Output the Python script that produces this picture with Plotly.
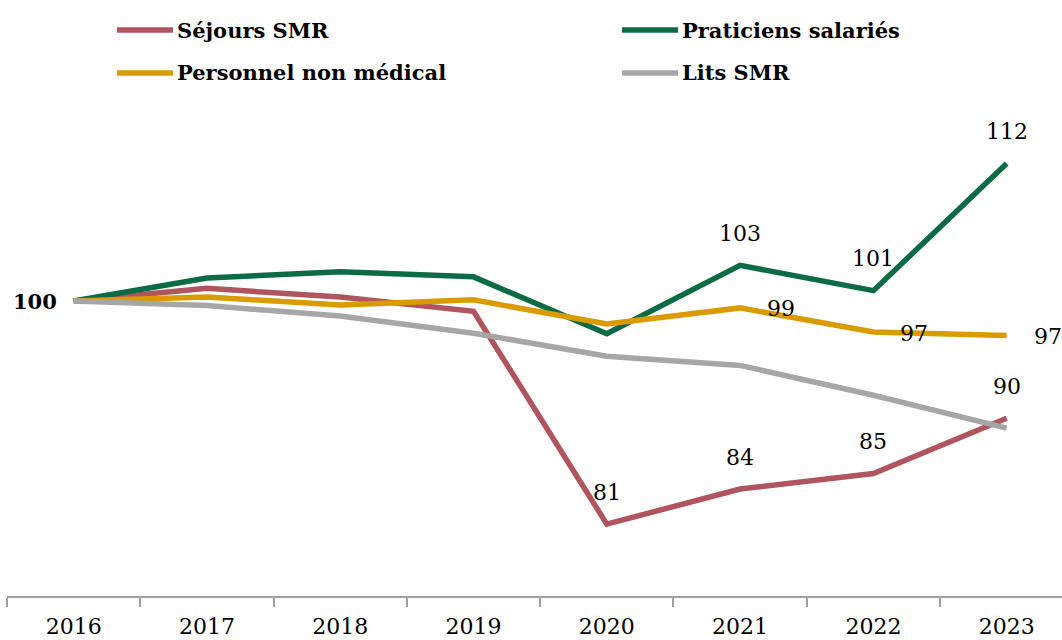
import plotly.graph_objects as go

years = ["2016", "2017", "2018", "2019", "2020", "2021", "2022", "2023"]
sejours_smr = [100, 101.1, 100.35, 99.1, 80.6, 83.65, 85.0, 89.8]
praticiens_salaries = [100, 102.0, 102.55, 102.1, 97.15, 103.1, 100.9, 111.95]
personnel_non_medical = [100, 100.35, 99.65, 100.1, 98.0, 99.4, 97.3, 97.0]
lits_smr = [100, 99.6, 98.7, 97.2, 95.2, 94.4, 91.8, 88.95]

series_names = ["Séjours SMR", "Praticiens salariés", "Personnel non médical", "Lits SMR"]
series_values = [sejours_smr, praticiens_salaries, personnel_non_medical, lits_smr]
series_colors = ["#B0545F", "#0C6B45", "#D99B00", "#A6A6A6"]

# which points get value labels: (series index, year index, position)
label_points = [
    (0, 4, "above"), (0, 5, "above"), (0, 6, "above"), (0, 7, "above"),
    (1, 5, "above"), (1, 6, "above"), (1, 7, "above"),
    (2, 5, "right"), (2, 6, "right"), (2, 7, "right"),
]

W, H = 1062, 640
ML, MR, MT, MB = 7, 0, 110, 44
PW, PH = W - ML - MR, H - MT - MB
CAT_PX = 133.29
X_LO = -0.5
X_HI = X_LO + PW / CAT_PX
PX_PER_UNIT = 11.5
Y_LO = 100 - 295 / PX_PER_UNIT
Y_HI = Y_LO + PH / PX_PER_UNIT

def px_x(p):  # page pixel -> paper x
    return (p - ML) / PW

def px_y(p):  # page pixel -> paper y
    return (H - MB - p) / PH

fig = go.Figure()
for name, vals, col in zip(series_names, series_values, series_colors):
    fig.add_trace(go.Scatter(
        x=years, y=vals, mode="lines", name=name,
        line=dict(color=col, width=5.5), showlegend=False,
        hoverinfo="skip",
    ))

serif = "DejaVu Serif"
annotations = []
for si, yi, pos in label_points:
    v = series_values[si][yi]
    a = dict(x=yi, y=v, xref="x", yref="y", text=str(round(v)),
             showarrow=False, font=dict(family=serif, size=22, color="#000"))
    if pos == "above":
        a["yshift"] = 32
    else:
        a["xshift"] = 41
        a["yshift"] = -1
    annotations.append(a)

# base value label
annotations.append(dict(x=0, y=series_values[0][0], xref="x", yref="y",
                        text="<b>%d</b>" % series_values[0][0], showarrow=False,
                        xshift=-39, font=dict(family=serif, size=21, color="#000")))

# manual legend (2 columns x 2 rows)
shapes = []
leg_pos = [(117, 30), (622, 30), (117, 73), (622, 73)]
for (lx, ly), name, col in zip(leg_pos, series_names, series_colors):
    shapes.append(dict(type="line", xref="paper", yref="paper",
                       x0=px_x(lx), x1=px_x(lx + 56), y0=px_y(ly), y1=px_y(ly),
                       line=dict(color=col, width=5.5)))
    annotations.append(dict(x=px_x(lx + 58), y=px_y(ly), xref="paper", yref="paper",
                            text="<b>%s</b>" % name, showarrow=False,
                            xanchor="left", yanchor="middle",
                            font=dict(family=serif, size=21, color="#000")))

fig.update_layout(
    width=W, height=H,
    margin=dict(l=ML, r=MR, t=MT, b=MB, autoexpand=False),
    paper_bgcolor="white", plot_bgcolor="white",
    annotations=annotations, shapes=shapes,
    showlegend=False,
    xaxis=dict(type="category", range=[X_LO, X_HI], showline=True,
               linecolor="#A0A0A0", linewidth=1.5, ticks="outside",
               tickson="boundaries", ticklen=9, tickcolor="#A0A0A0", tickwidth=1.5,
               showgrid=False, zeroline=False, automargin=False,
               ticklabelstandoff=10,
               tickfont=dict(family=serif, size=22, color="#000")),
    yaxis=dict(range=[Y_LO, Y_HI],
               showticklabels=False, showgrid=False, zeroline=False, showline=False,
               automargin=False),
)

fig.write_html(
    "out.html",
    config={"displayModeBar": False},
    post_script="document.body.style.margin='0';document.body.style.overflow='hidden';",
)
